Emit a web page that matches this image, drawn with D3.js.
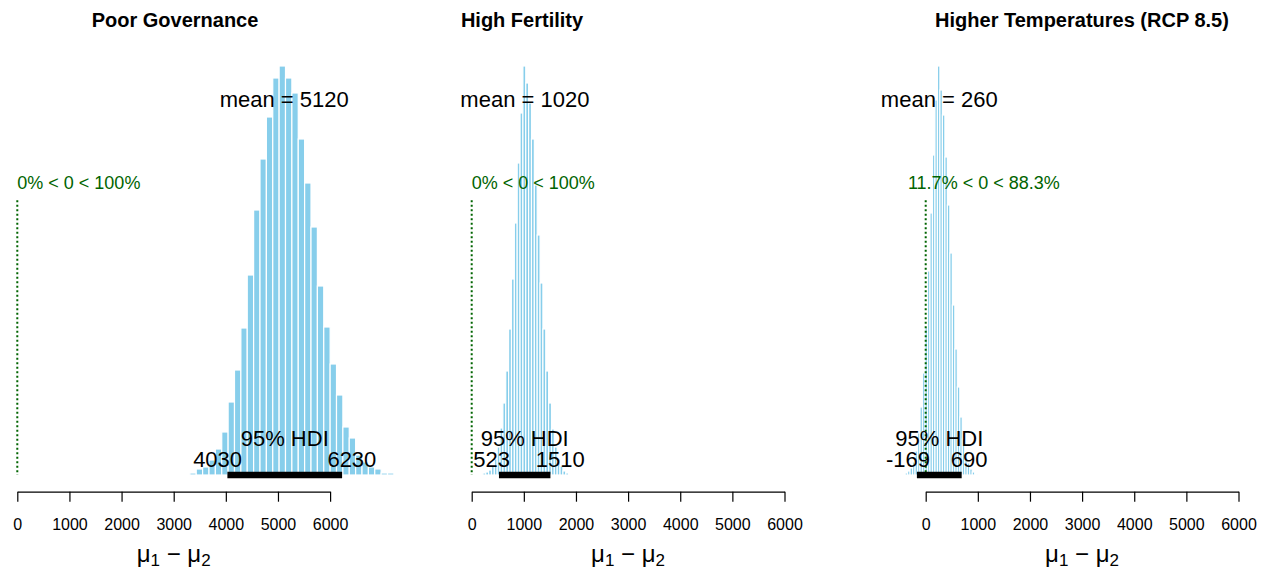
<!DOCTYPE html>
<html>
<head>
<meta charset="utf-8">
<script src="https://cdn.jsdelivr.net/npm/d3@7"></script>
<style>
  body { margin: 0; background: #fff; }
  svg text { font-family: "Liberation Sans", Arial, Helvetica, sans-serif; }
</style>
</head>
<body>
<div id="chart"></div>
<script>
// panel titles
const titles = ["Poor Governance", "High Fertility", "Higher Temperatures (RCP 8.5)"];

// histogram bins (left edge of first bin and bin width, in data units)
const binStarts = [3310, 215, -395];
const binWidths = [122.3, 54.8, 47.7];

// bar heights
const countsGovernance = [2, 6, 8, 15, 26, 43, 73, 105, 147, 200, 265, 316, 358, 397, 409, 397,
                          382, 336, 292, 248, 189, 148, 111, 80, 48, 37, 20, 13, 8, 6, 2, 2];
const countsFertility = [2, 3, 5, 9, 16, 28, 47, 72, 104, 146, 196, 252, 312, 362, 409,
                         392, 372, 336, 290, 240, 192, 146, 104, 72, 46, 28, 16, 9, 4, 2];
const countsTemperature = [2, 4, 7, 13, 24, 42, 68, 102, 148, 204, 262, 320, 375, 409,
                           385, 360, 318, 270, 222, 170, 126, 88, 58, 36, 21, 12, 6, 3, 1];

const means = [5120, 1020, 260];
const hdiLow = [4030, 523, -169];
const hdiHigh = [6230, 1510, 690];
const pctBelow = [0, 0, 11.7];
const pctAbove = [100, 100, 88.3];
const compVal = 0;
const xTicks = [0, 1000, 2000, 3000, 4000, 5000, 6000];

const allCounts = [countsGovernance, countsFertility, countsTemperature];

const width = 1265, height = 573;
const svg = d3.select("#chart").append("svg")
    .attr("width", width)
    .attr("height", height);

// layout
const axisLeft = [17.3, 471.7, 925.7];
const axisLen = 312.8;
const titleX = [175, 522, 1082];
const yBase = 475, yTop = 66;
const axisY = 491.7;
const textH = 17;   // string height used for R style adj offsets

titles.forEach(function(title, p) {
  const counts = allCounts[p];
  const x = d3.scaleLinear().domain([0, 6000]).range([axisLeft[p], axisLeft[p] + axisLen]);
  const y = d3.scaleLinear().domain([0, d3.max(counts)]).range([yBase, yTop]);
  const maxC = d3.max(counts);
  const g = svg.append("g");

  // title
  g.append("text")
    .attr("x", titleX[p])
    .attr("y", 27)
    .attr("text-anchor", "middle")
    .style("font-weight", "bold")
    .style("font-size", "20px")
    .text(title);

  // bars
  const bins = counts.map(function(c, i) {
    return { x0: binStarts[p] + i * binWidths[p], x1: binStarts[p] + (i + 1) * binWidths[p], c: c };
  });
  g.selectAll("rect.bar")
    .data(bins)
    .enter()
    .append("rect")
    .attr("class", "bar")
    .attr("x", function(d) { return x(d.x0); })
    .attr("width", function(d) { return x(d.x1) - x(d.x0); })
    .attr("y", function(d) { return y(d.c); })
    .attr("height", function(d) { return y(0) - y(d.c); })
    .attr("fill", "#87CEEB")
    .attr("stroke", "#fff")
    .attr("stroke-width", 1.2);

  // mean label
  g.append("text")
    .attr("x", x(means[p]))
    .attr("y", y(0.9 * maxC))
    .attr("text-anchor", "middle")
    .style("font-size", "22px")
    .text("mean = " + means[p]);

  // comparison value line and text
  g.append("line")
    .attr("x1", x(compVal)).attr("x2", x(compVal))
    .attr("y1", y(0.96 * 0.7 * maxC)).attr("y2", y(0))
    .attr("stroke", "#006400")
    .attr("stroke-width", 2)
    .attr("stroke-dasharray", "2,2.5");

  const cmp = g.append("text")
    .attr("x", x(compVal))
    .attr("y", y(0.7 * maxC))
    .attr("fill", "#006400")
    .style("font-size", "18px")
    .text(pctBelow[p] + "% < " + compVal + " < " + pctAbove[p] + "%");
  const cw = cmp.node().getComputedTextLength();
  cmp.attr("x", x(compVal) - cw * pctBelow[p] / 100);

  // HDI bar
  g.append("line")
    .attr("x1", x(hdiLow[p])).attr("x2", x(hdiHigh[p]))
    .attr("y1", y(0)).attr("y2", y(0))
    .attr("stroke", "#000")
    .attr("stroke-width", 6.5);

  g.append("text")
    .attr("x", x((hdiLow[p] + hdiHigh[p]) / 2))
    .attr("y", y(0) - 1.7 * textH)
    .attr("text-anchor", "middle")
    .style("font-size", "22px")
    .text("95% HDI");

  const lo = g.append("text")
    .attr("y", y(0) - 0.5 * textH)
    .style("font-size", "22px")
    .text(hdiLow[p]);
  lo.attr("x", x(hdiLow[p]) - 0.7 * lo.node().getComputedTextLength());

  const hi = g.append("text")
    .attr("y", y(0) - 0.5 * textH)
    .style("font-size", "22px")
    .text(hdiHigh[p]);
  hi.attr("x", x(hdiHigh[p]) - 0.3 * hi.node().getComputedTextLength());

  // x axis
  const ax = g.append("g")
    .attr("transform", "translate(0," + axisY + ")")
    .call(d3.axisBottom(x).tickValues(xTicks).tickFormat(d3.format("d")).tickSize(10).tickPadding(17).tickSizeOuter(0));
  ax.select(".domain").attr("stroke", "#000").attr("stroke-width", 1.2);
  ax.selectAll(".tick line").attr("stroke", "#000").attr("stroke-width", 1.2);
  ax.selectAll(".tick text")
    .attr("fill", "#000")
    .style("font-size", "16px")
    .style("font-family", "'Liberation Sans', Arial, sans-serif");

  // axis title
  const lab = g.append("text")
    .attr("x", x(3000))
    .attr("y", 562)
    .attr("text-anchor", "middle")
    .style("font-size", "24px");
  lab.append("tspan").text("\u03bc");
  lab.append("tspan").attr("dy", 4).style("font-size", "17px").text("1");
  lab.append("tspan").attr("dy", -4).text(" \u2212 \u03bc");
  lab.append("tspan").attr("dy", 4).style("font-size", "17px").text("2");
});
</script>
</body>
</html>
